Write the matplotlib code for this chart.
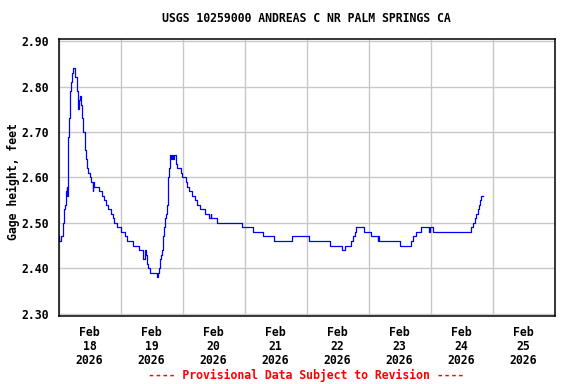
import matplotlib
matplotlib.use("Agg")
import matplotlib.pyplot as plt
from matplotlib.ticker import FixedLocator

# hours since Feb 18 00:00 and gage height (ft), step changes
hours = [0.0, 0.3, 1.0, 1.6, 1.8, 2.1, 2.6, 2.8, 3.1, 3.4, 3.6, 4.1, 4.4, 4.65, 5.2, 5.7,
         6.2, 7.2, 7.7, 8.0, 8.3, 8.8, 9.0, 9.55, 10.1, 10.4, 10.6, 11.1, 11.6, 12.1, 12.6,
         13.2, 13.5, 13.8, 15.7, 17.0, 17.8, 18.3, 19.1, 20.4, 21.0, 21.6, 22.8, 24.3,
         25.6, 26.6, 28.7, 31.0, 32.6, 32.8, 33.3, 33.9, 34.1, 34.6, 35.4, 38.0, 38.5,
         39.0, 39.3, 39.6, 40.1, 40.4, 40.6, 40.9, 41.1, 41.4, 41.6, 41.9, 42.2, 42.5,
         42.7, 43.0, 43.2, 43.5, 44.0, 44.5, 44.8, 45.3, 45.8, 47.3, 47.9, 49.2, 49.7,
         50.6, 51.6, 52.7, 53.7, 54.7, 56.8, 58.4, 58.9, 59.2, 61.2, 71.0, 75.3, 79.3,
         83.4, 90.5, 97.0, 105.0, 109.7, 111.0, 113.3, 114.0, 114.6, 115.2, 118.2, 120.8,
         123.6, 123.8, 124.1, 132.1, 136.3, 137.3, 138.4, 140.2, 143.5, 143.8, 145.0,
         159.8, 160.6, 161.1, 161.6, 162.2, 162.7, 163.2, 163.7, 164.2]
height = [2.47, 2.46, 2.47, 2.48, 2.50, 2.53, 2.54, 2.57, 2.58, 2.56, 2.69, 2.73, 2.79, 2.81, 2.83, 2.84,
          2.82, 2.79, 2.75, 2.77, 2.78, 2.76, 2.73, 2.70, 2.68, 2.66, 2.64, 2.62, 2.61, 2.60, 2.59,
          2.57, 2.59, 2.58, 2.57, 2.56, 2.55, 2.54, 2.53, 2.52, 2.51, 2.50, 2.49, 2.48,
          2.47, 2.46, 2.45, 2.44, 2.43, 2.42, 2.44, 2.43, 2.41, 2.40, 2.39, 2.38, 2.39,
          2.40, 2.42, 2.43, 2.44, 2.46, 2.47, 2.49, 2.50, 2.51, 2.52, 2.54, 2.56, 2.60,
          2.62, 2.64, 2.65, 2.64, 2.65, 2.64, 2.65, 2.63, 2.62, 2.61, 2.60, 2.59, 2.58,
          2.57, 2.56, 2.55, 2.54, 2.53, 2.52, 2.51, 2.52, 2.51, 2.50, 2.49, 2.48, 2.47,
          2.46, 2.47, 2.46, 2.45, 2.44, 2.45, 2.46, 2.47, 2.48, 2.49, 2.48, 2.47,
          2.46, 2.47, 2.46, 2.45, 2.46, 2.47, 2.48, 2.49, 2.48, 2.49, 2.48,
          2.49, 2.50, 2.51, 2.52, 2.53, 2.54, 2.55, 2.56, 2.56]

day_labels = ["Feb\n18\n2026", "Feb\n19\n2026", "Feb\n20\n2026", "Feb\n21\n2026",
              "Feb\n22\n2026", "Feb\n23\n2026", "Feb\n24\n2026", "Feb\n25\n2026"]
y_ticks = [2.30, 2.40, 2.50, 2.60, 2.70, 2.80, 2.90]

FONT = "DejaVu Sans Mono"
FS = 8.3

W, H = 576, 384
fig = plt.figure(figsize=(W / 100, H / 100), dpi=100)
left, right, top, bottom = 58.5, 554.5, 39.3, 316.0
ax = fig.add_axes([left / W, 1 - bottom / H, (right - left) / W, (bottom - top) / H])

days = [h / 24.0 for h in hours]
ax.plot(days, height, color="#0000ff", lw=0.9, drawstyle="steps-post")

ax.set_xlim(0, 8)
ax.set_ylim(2.295, 2.904)

ax.xaxis.set_major_locator(FixedLocator(list(range(0, 9))))
ax.xaxis.set_minor_locator(FixedLocator([i + 0.5 for i in range(8)]))
ax.set_xticklabels([""] * 9)
ax.set_xticklabels(day_labels, minor=True, fontfamily=FONT, fontweight="bold", fontsize=FS,
                   linespacing=1.12)
ax.tick_params(axis="x", which="both", length=0)
ax.tick_params(axis="x", which="minor", pad=7)

ax.set_yticks(y_ticks)
ax.set_yticklabels([f"{v:.2f}" for v in y_ticks], fontfamily=FONT, fontweight="bold", fontsize=FS)
ax.tick_params(axis="y", length=0, pad=7)

ax.grid(True, which="major", color="#c8c8c8", lw=1.0)
ax.set_axisbelow(True)
for s in ax.spines.values():
    s.set_color("black")
    s.set_linewidth(1.1)

fig.text((left + right) / 2 / W, 1 - 19 / H, "USGS 10259000 ANDREAS C NR PALM SPRINGS CA",
         ha="center", va="center", fontfamily=FONT, fontweight="bold", fontsize=FS)
fig.text(13 / W, 1 - 182 / H, "Gage height, feet", rotation=90, ha="center", va="center",
         fontfamily=FONT, fontweight="bold", fontsize=FS)
fig.text((left + right) / 2 / W, 1 - 375 / H, "---- Provisional Data Subject to Revision ----",
         ha="center", va="center", color="red", fontfamily=FONT, fontweight="bold", fontsize=FS)

fig.savefig("out.png", dpi=100)
